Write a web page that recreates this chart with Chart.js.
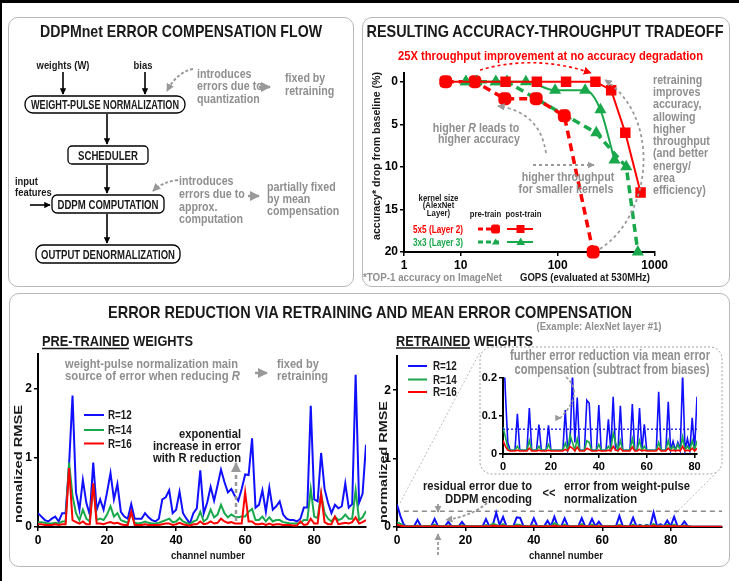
<!DOCTYPE html>
<html>
<head>
<meta charset="utf-8">
<script src="https://cdn.jsdelivr.net/npm/chart.js@4.4.0/dist/chart.umd.min.js"></script>
<style>
  body { margin: 0; background: #fff; }
  #page { position: relative; width: 739px; height: 581px; overflow: hidden; background: #fff;
          font-family: "Liberation Sans", Arial, sans-serif; }
  .bar { position: absolute; background: #000; }
  .panel { position: absolute; border: 1px solid #b8b8b8; border-radius: 10px; }
  canvas { position: absolute; z-index: 1; }
  #overlay { position: absolute; left: 0; top: 0; z-index: 5; pointer-events: none; }
  #overlay text { font-weight: bold; }
  .g { fill: #8f8f8f; }
  .k { fill: #1a1a1a; }
</style>
</head>
<body>
<div id="page">
  <div class="bar" style="left:0;top:0;width:739px;height:3px"></div>
  <div class="bar" style="left:0;top:0;width:2px;height:581px"></div>

  <div class="panel" style="left:8px;top:17px;width:344px;height:268px"></div>
  <div class="panel" style="left:362px;top:17px;width:366px;height:268px"></div>
  <div class="panel" style="left:9px;top:293px;width:719px;height:272px"></div>

  <canvas id="chartTradeoff" width="310" height="214" style="left:360px;top:64px"></canvas>
  <canvas id="chartPre" width="366" height="218" style="left:8px;top:344px"></canvas>
  <canvas id="chartRetrained" width="358" height="216" style="left:370px;top:346px"></canvas>
  <canvas id="chartInset" width="232" height="103" style="left:473px;top:369px"></canvas>

  <svg id="overlay" width="739" height="581" font-family='"Liberation Sans", Arial, sans-serif'>
    <defs>
      <marker id="ak" viewBox="0 0 10 10" refX="9" refY="5" markerWidth="4" markerHeight="4" orient="auto"><path d="M0,0 L10,5 L0,10 z" fill="#000"/></marker>
      <marker id="ag" viewBox="0 0 10 10" refX="9" refY="5" markerWidth="4" markerHeight="4" orient="auto"><path d="M0,0 L10,5 L0,10 z" fill="#999"/></marker>
      <marker id="ar" viewBox="0 0 10 10" refX="9" refY="5" markerWidth="5" markerHeight="5" orient="auto"><path d="M0,0 L10,5 L0,10 z" fill="#f00"/></marker>
    </defs>

    <!-- flow diagram -->
    <text x="181" y="37" font-size="17" text-anchor="middle" class="k" textLength="282" lengthAdjust="spacingAndGlyphs">DDPMnet ERROR COMPENSATION FLOW</text>
    <text x="63" y="69" font-size="11.5" text-anchor="middle" class="k">weights (W)</text>
    <text x="143" y="69" font-size="11.5" text-anchor="middle" class="k">bias</text>
    <g stroke="#000" stroke-width="1.6" fill="none">
      <path d="M63,72 L63,94" marker-end="url(#ak)"/>
      <path d="M145,72 L145,94" marker-end="url(#ak)"/>
      <path d="M107,114 L107,144" marker-end="url(#ak)"/>
      <path d="M107,165 L107,193" marker-end="url(#ak)"/>
      <path d="M107,214 L107,243" marker-end="url(#ak)"/>
      <path d="M30,205 L50,205" marker-end="url(#ak)"/>
    </g>
    <g stroke="#000" stroke-width="1.3" fill="#fff">
      <rect x="25" y="96" width="160" height="17" rx="8"/>
      <rect x="68" y="146" width="80" height="18" rx="4"/>
      <rect x="52" y="195" width="112" height="18" rx="5"/>
      <rect x="36" y="245" width="144" height="18" rx="7"/>
    </g>
    <text x="105" y="109" font-size="12" text-anchor="middle" class="k" textLength="148" lengthAdjust="spacingAndGlyphs">WEIGHT-PULSE NORMALIZATION</text>
    <text x="108" y="159.5" font-size="12" text-anchor="middle" class="k" textLength="60" lengthAdjust="spacingAndGlyphs">SCHEDULER</text>
    <text x="108" y="208.5" font-size="12" text-anchor="middle" class="k" textLength="101" lengthAdjust="spacingAndGlyphs">DDPM COMPUTATION</text>
    <text x="108" y="258.5" font-size="12" text-anchor="middle" class="k" textLength="134" lengthAdjust="spacingAndGlyphs">OUTPUT DENORMALIZATION</text>
    <text x="15" y="185" font-size="11.5" class="k">input</text>
    <text x="15" y="196" font-size="11.5" class="k">features</text>

    <g font-size="13" class="g">
      <text x="197" y="77.5">introduces</text>
      <text x="197" y="90">errors due to</text>
      <text x="197" y="102.5">quantization</text>
      <text x="285" y="82">fixed by</text>
      <text x="285" y="94.5">retraining</text>
      <text x="179" y="184.5">introduces</text>
      <text x="179" y="197.5">errors due to</text>
      <text x="179" y="210.5">approx.</text>
      <text x="179" y="222.5">computation</text>
      <text x="267" y="190.5">partially fixed</text>
      <text x="267" y="202.5">by mean</text>
      <text x="267" y="214.5">compensation</text>
    </g>
    <g stroke="#999" fill="none">
      <path d="M193,69 Q177,72 167,91" stroke-width="2" stroke-dasharray="3,2" marker-end="url(#ag)"/>
      <path d="M178,180 Q162,182 153,191" stroke-width="2" stroke-dasharray="3,2" marker-end="url(#ag)"/>
      <path d="M259,87 L270,87" stroke-width="2.5" marker-end="url(#ag)"/>
      <path d="M248,196 L259,196" stroke-width="2.5" marker-end="url(#ag)"/>
    </g>

    <!-- accuracy / throughput panel -->
    <text x="545" y="37" font-size="17" text-anchor="middle" class="k" textLength="357" lengthAdjust="spacingAndGlyphs">RESULTING ACCURACY-THROUGHPUT TRADEOFF</text>
    <text x="550.5" y="59.5" font-size="13" text-anchor="middle" fill="#f00" textLength="305" lengthAdjust="spacingAndGlyphs">25X throughput improvement at no accuracy degradation</text>
    <g font-size="13" class="g">
      <text x="476" y="131.5" text-anchor="middle">higher <tspan font-style="italic">R</tspan> leads to</text>
      <text x="479" y="142.5" text-anchor="middle">higher accuracy</text>
      <text x="568" y="180.5" text-anchor="middle">higher throughput</text>
      <text x="566" y="193" text-anchor="middle">for smaller kernels</text>
      <text x="653" y="83.5">retraining</text>
      <text x="653" y="95.5">improves</text>
      <text x="653" y="108">accuracy,</text>
      <text x="653" y="120.5">allowing</text>
      <text x="653" y="133">higher</text>
      <text x="653" y="145">throughput</text>
      <text x="653" y="157">(and better</text>
      <text x="653" y="169.5">energy/</text>
      <text x="653" y="182">area</text>
      <text x="653" y="194">efficiency)</text>
    </g>
    <g fill="none">
      <path d="M480,70 Q535,54 591,73" stroke="#f00" stroke-width="1.6" stroke-dasharray="3,3" marker-end="url(#ar)"/>
      <path d="M546,153 Q540,112 498,106" stroke="#999" stroke-width="1.8" stroke-dasharray="3,3" marker-end="url(#ag)"/>
      <path d="M533,165 L594,165" stroke="#999" stroke-width="1.8" stroke-dasharray="3,3" marker-end="url(#ag)"/>
      <path d="M600,249 C652,215 662,118 605,80" stroke="#999" stroke-width="1.8" stroke-dasharray="3,3" marker-end="url(#ag)"/>
    </g>
    <g font-size="9.5" class="k" text-anchor="middle">
      <text x="438.5" y="200.5">kernel size</text>
      <text x="438.5" y="208">(AlexNet</text>
      <text x="438.5" y="215.5">Layer)</text>
      <text x="485.5" y="216.5">pre-train</text>
      <text x="523.5" y="216.5">post-train</text>
    </g>
    <text x="413" y="232.5" font-size="10" fill="#f00">5x5 (Layer 2)</text>
    <text x="413" y="245.5" font-size="10" fill="#19a84b">3x3 (Layer 3)</text>
    <path d="M478,229 L500,229" stroke="#f00" stroke-width="3" stroke-dasharray="5,3"/>
    <rect x="491" y="224.5" width="9" height="9" rx="2.5" fill="#f00"/>
    <path d="M507,229 L533,229" stroke="#f00" stroke-width="2"/>
    <rect x="516.5" y="225" width="8" height="8" fill="#f00"/>
    <path d="M478,242 L500,242" stroke="#19a84b" stroke-width="3" stroke-dasharray="5,3"/>
    <path d="M495.7,238.5 L499.5,244.5 L491.9,244.5 z" fill="#19a84b"/>
    <path d="M507,242 L533,242" stroke="#19a84b" stroke-width="2"/>
    <path d="M520.7,237.5 L525,245 L516.4,245 z" fill="#19a84b"/>
    <text x="363" y="281" font-size="10.5" class="g" textLength="139" lengthAdjust="spacingAndGlyphs">*TOP-1 accuracy on ImageNet</text>
    <text x="585" y="281" font-size="11.5" text-anchor="middle" class="k" textLength="130" lengthAdjust="spacingAndGlyphs">GOPS (evaluated at 530MHz)</text>
    <text transform="translate(380,156) rotate(-90)" font-size="11.5" text-anchor="middle" class="k" textLength="168" lengthAdjust="spacingAndGlyphs">accuracy* drop from baseline (%)</text>

    <!-- error reduction panel -->
    <text x="370" y="317.5" font-size="17" text-anchor="middle" class="k" textLength="524" lengthAdjust="spacingAndGlyphs">ERROR REDUCTION VIA RETRAINING AND MEAN ERROR COMPENSATION</text>
    <text x="599" y="330" font-size="10.5" text-anchor="middle" class="g" textLength="125" lengthAdjust="spacingAndGlyphs">(Example: AlexNet layer #1)</text>
    <text x="42" y="346" font-size="15" class="k" textLength="151" lengthAdjust="spacingAndGlyphs">PRE-TRAINED WEIGHTS</text>
    <path d="M42,348.5 L129,348.5" stroke="#1a1a1a" stroke-width="1.3"/>
    <text x="396" y="345.5" font-size="15" class="k" textLength="137" lengthAdjust="spacingAndGlyphs">RETRAINED WEIGHTS</text>
    <path d="M396,348 L470,348" stroke="#1a1a1a" stroke-width="1.3"/>

    <g font-size="13.5" class="g">
      <text x="65" y="367.7" textLength="173" lengthAdjust="spacingAndGlyphs">weight-pulse normalization main</text>
      <text x="65" y="380" textLength="175" lengthAdjust="spacingAndGlyphs">source of error when reducing <tspan font-style="italic">R</tspan></text>
      <text x="277" y="367.7">fixed by</text>
      <text x="277" y="380">retraining</text>
    </g>
    <path d="M255,373 L267,373" stroke="#999" stroke-width="2.5" marker-end="url(#ag)"/>

    <g font-size="12" class="k">
      <text x="108" y="419">R=12</text>
      <text x="108" y="434">R=14</text>
      <text x="108" y="447.5">R=16</text>
      <text x="433" y="370">R=12</text>
      <text x="433" y="383.5">R=14</text>
      <text x="433" y="396">R=16</text>
    </g>
    <g stroke-width="2">
      <path d="M84,415 L104,415" stroke="#1010ff"/>
      <path d="M84,430 L104,430" stroke="#19a84b"/>
      <path d="M84,443.5 L104,443.5" stroke="#f00"/>
      <path d="M408,366 L427,366" stroke="#1010ff"/>
      <path d="M408,379.5 L427,379.5" stroke="#19a84b"/>
      <path d="M408,392 L427,392" stroke="#f00"/>
    </g>

    <g font-size="13.5" class="k" text-anchor="end">
      <text x="241" y="437.5" textLength="62" lengthAdjust="spacingAndGlyphs">exponential</text>
      <text x="241" y="449.5" textLength="88" lengthAdjust="spacingAndGlyphs">increase in error</text>
      <text x="241" y="461.5" textLength="88" lengthAdjust="spacingAndGlyphs">with R reduction</text>
    </g>
    <path d="M236,521 L236,463" stroke="#999" stroke-width="2.5" stroke-dasharray="4,3" fill="none" marker-end="url(#ag)"/>

    <text transform="translate(22,464) rotate(-90)" font-size="11.5" text-anchor="middle" class="k" textLength="118" lengthAdjust="spacingAndGlyphs">nomalized RMSE</text>
    <text x="208" y="559" font-size="11.5" text-anchor="middle" class="k" textLength="74" lengthAdjust="spacingAndGlyphs">channel number</text>
    <text transform="translate(387,462) rotate(-90)" font-size="11.5" text-anchor="middle" class="k" textLength="122" lengthAdjust="spacingAndGlyphs">normalized RMSE</text>
    <text x="566" y="559" font-size="11.5" text-anchor="middle" class="k" textLength="74" lengthAdjust="spacingAndGlyphs">channel number</text>

    <rect x="480" y="347" width="242" height="127" rx="12" fill="none" stroke="#a0a0a0" stroke-width="1" stroke-dasharray="2,2"/>
    <g font-size="14" class="g" text-anchor="middle">
      <text x="610" y="360" textLength="200" lengthAdjust="spacingAndGlyphs">further error reduction via mean error</text>
      <text x="612" y="374" textLength="195" lengthAdjust="spacingAndGlyphs">compensation (subtract from biases)</text>
    </g>
    <path d="M566,377 C588,396 558,418 561,418" stroke="#999" stroke-width="1.6" stroke-dasharray="3,2" fill="none" marker-end="url(#ag)"/>
    <g stroke="#bbb" stroke-width="1" stroke-dasharray="2,2" fill="none">
      <path d="M400,503 L480,352"/>
      <path d="M670,519 L721,468"/>
    </g>

    <g font-size="13.5" class="k">
      <text x="532" y="489.7" text-anchor="end" textLength="109" lengthAdjust="spacingAndGlyphs">residual error due to</text>
      <text x="532" y="502.7" text-anchor="end" textLength="87" lengthAdjust="spacingAndGlyphs">DDPM encoding</text>
      <text x="549" y="496.5" text-anchor="middle">&lt;&lt;</text>
      <text x="564" y="489.7" textLength="126" lengthAdjust="spacingAndGlyphs">error from weight-pulse</text>
      <text x="564" y="502.7" textLength="73" lengthAdjust="spacingAndGlyphs">normalization</text>
    </g>
    <g stroke="#999" stroke-width="1.8" stroke-dasharray="3,2" fill="none">
      <path d="M438,504 L438,512" marker-end="url(#ag)"/>
      <path d="M438,555 L438,534" marker-end="url(#ag)"/>
      <path d="M487,503 Q472,516 446,520" marker-end="url(#ag)"/>
    </g>
  </svg>
</div>

<script>
// ---------- accuracy-throughput tradeoff (AlexNet layers 2 and 3) ----------
const gopsTicks = [2.6, 10, 100, 1000];
const gopsTickLabels = ['1', '10', '100', '1000'];
const dropTicks = [0, 5, 10, 15, 20];

const red5x5PostGops = [7, 14, 29, 61, 122, 245, 356, 498, 716];
const red5x5PostDrop = [0, 0, 0, 0, 0, 0, 1, 6, 13];
const red5x5PreGops = [7, 14, 28.5, 60, 117, 232];
const red5x5PreDrop = [0, 0, 2, 2, 4, 20];
const green3x3PostGops = [11.3, 14.5, 23, 30, 47, 94, 192, 276, 385];
const green3x3PostDrop = [0, 0, 0, 0, 0, 1, 1, 3.3, 9.2];
const green3x3PreGops = [11.3, 14.5, 23, 30, 60, 122, 250, 510, 671];
const green3x3PreDrop = [0, 0, 0, 0, 2, 4, 6, 10, 20];

// ---------- normalized RMSE per channel (AlexNet layer #1) ----------
const channels = Array.from({ length: 96 }, (_, i) => i);
const channelTicks = [0, 20, 40, 60, 80];
const rmseTicks = [0, 1, 2];
const insetTicks = [0, 0.1, 0.2];
const insetChannelTicks = [0, 20, 40, 60, 80];

const preR12 = [0.2,0.15,0.1,0.08,0.12,0.15,0.08,0.2,0.2,0.9, 1.9,0.5,0.25,0.68,0.35,0.18,0.93,0.25,0.4,0.25,
  0.5,0.78,0.4,0.62,0.22,0.15,0.12,0.33,0.12,0.12, 0.12,0.2,0.14,0.1,0.08,0.12,0.4,0.43,0.53,0.2,
  0.25,0.51,0.2,0.12,0.05,0.2,0.27,0.82,0.2,0.35, 0.58,0.38,0.6,0.83,0.65,0.5,0.55,0.45,0.38,0.55,
  0.76,0.75,1.28,0.28,0.32,0.53,0.22,0.57,0.25,0.3, 0.37,0.18,0.12,0.1,0.1,0.08,0.12,0.28,0.28,1.75,
  0.4,0.37,1.07,0.55,0.35,0.2,0.32,0.27,0.3,0.63, 0.28,0.33,2.2,0.35,0.48,1.19];
const preR14 = [0.07,0.07,0.06,0.05,0.05,0.06,0.05,0.08,0.08,0.93, 0.45,0.2,0.1,0.25,0.12,0.08,0.62,0.1,0.12,0.1,
  0.18,0.3,0.15,0.2,0.1,0.08,0.06,0.2,0.06,0.05, 0.06,0.08,0.06,0.05,0.05,0.06,0.08,0.1,0.12,0.07,
  0.08,0.13,0.08,0.06,0.04,0.08,0.1,0.22,0.08,0.12, 0.25,0.14,0.18,0.32,0.2,0.14,0.18,0.15,0.14,0.15,
  0.15,0.22,0.26,0.1,0.1,0.15,0.08,0.14,0.08,0.1, 0.1,0.07,0.06,0.05,0.05,0.05,0.06,0.1,0.1,0.55,
  0.15,0.13,0.48,0.2,0.12,0.08,0.15,0.1,0.12,0.18, 0.12,0.12,0.53,0.1,0.14,0.23];
const preR16 = [0.04,0.04,0.03,0.03,0.03,0.04,0.03,0.04,0.04,0.85, 0.1,0.07,0.05,0.08,0.04,0.04,0.63,0.05,0.05,0.04,
  0.06,0.07,0.05,0.06,0.04,0.03,0.03,0.22,0.03,0.03, 0.03,0.04,0.03,0.03,0.03,0.03,0.04,0.05,0.05,0.03,
  0.04,0.06,0.04,0.03,0.02,0.04,0.04,0.08,0.04,0.05, 0.08,0.05,0.06,0.12,0.08,0.06,0.07,0.05,0.05,0.05,
  0.5,0.08,0.08,0.04,0.04,0.05,0.03,0.05,0.03,0.04, 0.04,0.03,0.03,0.03,0.02,0.02,0.08,0.03,0.04,0.12,
  0.05,0.05,0.48,0.07,0.04,0.04,0.15,0.04,0.05,0.06, 0.05,0.07,0.14,0.05,0.07,0.1];

const retR12 = [0.33,0.16,0.03,0.01,0.01,0.01,0.105,0.01,0.01,0.01, 0.01,0.12,0.01,0.01,0.01,0.077,0.01,0.01,0.01,0.075,
  0.01,0.01,0.01,0.01,0.01,0.01,0.115,0.01,0.03,0.21, 0.03,0.148,0.01,0.01,0.01,0.141,0.133,0.01,0.01,0.01,
  0.128,0.01,0.01,0.01,0.091,0.01,0.15,0.01,0.01,0.126, 0.01,0.01,0.01,0.01,0.131,0.01,0.01,0.12,0.01,0.078,
  0.01,0.01,0.01,0.01,0.01,0.163,0.01,0.01,0.01,0.137, 0.01,0.033,0.01,0.03,0.01,0.21,0.01,0.04,0.01,0.095,
  0.01,0.15,0.01,0.01,0.08,0.01,0.005,0.005,0.005,0.005, 0.005,0.005,0.005,0.005,0.005,0.005];
const retR14 = [0.07,0.045,0.015,0.01,0.01,0.01,0.02,0.01,0.01,0.01, 0.01,0.035,0.01,0.01,0.01,0.02,0.01,0.01,0.01,0.025,
  0.01,0.01,0.01,0.01,0.01,0.01,0.028,0.01,0.05,0.03, 0.01,0.04,0.01,0.01,0.01,0.035,0.03,0.01,0.01,0.01,
  0.025,0.01,0.01,0.01,0.02,0.01,0.055,0.03,0.01,0.035, 0.01,0.01,0.01,0.01,0.04,0.01,0.01,0.035,0.01,0.02,
  0.01,0.01,0.01,0.01,0.01,0.03,0.01,0.01,0.01,0.035, 0.01,0.02,0.01,0.025,0.01,0.045,0.01,0.02,0.01,0.035,
  0.01,0.035,0.01,0.01,0.02,0.01,0.005,0.005,0.005,0.005, 0.005,0.005,0.005,0.005,0.005,0.005];
const retR16 = [0.035,0.02,0.01,0.008,0.008,0.008,0.01,0.008,0.008,0.008, 0.008,0.015,0.008,0.008,0.008,0.01,0.008,0.008,0.008,0.01,
  0.008,0.008,0.008,0.008,0.008,0.008,0.012,0.008,0.02,0.015, 0.008,0.018,0.008,0.008,0.008,0.015,0.012,0.008,0.008,0.008,
  0.01,0.008,0.008,0.008,0.01,0.008,0.02,0.01,0.008,0.015, 0.008,0.008,0.008,0.008,0.018,0.008,0.008,0.012,0.008,0.01,
  0.008,0.008,0.008,0.008,0.008,0.015,0.008,0.008,0.008,0.015, 0.008,0.01,0.008,0.01,0.008,0.02,0.008,0.01,0.008,0.015,
  0.008,0.015,0.008,0.008,0.01,0.008,0.004,0.004,0.004,0.004, 0.004,0.004,0.004,0.004,0.004,0.004];

// residual level (gray dashed) and mean error of R=12 (blue dotted, inset)
const residualLevel = 0.23;
const residualFromChannel = 2;
const insetMeanError = 0.065;

const FONT = '"Liberation Sans", Arial, sans-serif';
const BLUE = '#1010ff';
const GREEN = '#19a84b';
const RED = '#ff0000';

Chart.defaults.font.family = FONT;
Chart.defaults.font.weight = 'bold';
Chart.defaults.color = '#000';

// the figure uses a condensed face: squeeze the free-running annotation text
document.querySelectorAll('#overlay text:not([textLength])').forEach(t => {
  const w = t.getComputedTextLength();
  t.setAttribute('textLength', (w * 0.82).toFixed(1));
  t.setAttribute('lengthAdjust', 'spacingAndGlyphs');
});

function pts(xs, ys) {
  return xs.map((x, i) => ({ x: x, y: ys[i] }));
}

// fixed axis boxes so the plot areas sit where the figure has them
function axis(type, min, max, tickValues, size, isX, fontSize) {
  return {
    type: type,
    min: min,
    max: max,
    afterBuildTicks: (s) => { s.ticks = tickValues.map(v => ({ value: v })); },
    afterFit: (s) => { if (isX) s.height = size; else s.width = size; },
    border: { display: true, color: '#000', width: 2 },
    grid: { display: true, drawOnChartArea: false, drawTicks: true, tickLength: 4, color: '#000', lineWidth: 1.5 },
    ticks: { color: '#000', font: { size: fontSize || 12, weight: 'bold' }, padding: 2, maxRotation: 0, autoSkip: false }
  };
}

const baseOptions = (pad, scales) => ({
  responsive: false,
  animation: false,
  layout: { padding: pad },
  plugins: { legend: { display: false }, tooltip: { enabled: false } },
  scales: scales
});

// ---- top right: accuracy drop vs GOPS ----
const xTrade = axis('logarithmic', 2.6, 1000, gopsTicks, 26, true);
xTrade.ticks.callback = (v, i) => gopsTickLabels[i];
const yTrade = axis('linear', -1, 20, dropTicks, 44, false);
yTrade.reverse = true;

new Chart(document.getElementById('chartTradeoff'), {
  type: 'line',
  data: {
    datasets: [
      { data: pts(red5x5PostGops, red5x5PostDrop), borderColor: RED, backgroundColor: RED, borderWidth: 2,
        pointStyle: 'rect', pointRadius: 6, clip: false, order: 0 },
      { data: pts(red5x5PreGops, red5x5PreDrop), borderColor: RED, backgroundColor: RED, borderWidth: 3.5, borderDash: [8, 5],
        pointStyle: 'rectRounded', pointRadius: 5.5, clip: false, order: 2 },
      { data: pts(green3x3PostGops, green3x3PostDrop), borderColor: GREEN, backgroundColor: GREEN, borderWidth: 2,
        cubicInterpolationMode: 'monotone', pointStyle: 'triangle', pointRadius: 5, clip: false, order: 1 },
      { data: pts(green3x3PreGops, green3x3PreDrop), borderColor: GREEN, backgroundColor: GREEN, borderWidth: 3.5, borderDash: [8, 5],
        pointStyle: 'triangle', pointRadius: 3.5, clip: false, order: 3 }
    ]
  },
  options: baseOptions({ left: 0, top: 8, right: 15, bottom: 0 }, { x: xTrade, y: yTrade })
});

// ---- bottom: RMSE per channel ----
function rmseSets(r12, r14, r16, width) {
  return [
    { data: pts(channels, r16), borderColor: RED, borderWidth: width, pointRadius: 0, order: 0 },
    { data: pts(channels, r14), borderColor: GREEN, borderWidth: width, pointRadius: 0, order: 1 },
    { data: pts(channels, r12), borderColor: BLUE, borderWidth: width, pointRadius: 0, order: 2 }
  ];
}

new Chart(document.getElementById('chartPre'), {
  type: 'line',
  data: { datasets: rmseSets(preR12, preR14, preR16, 2) },
  options: baseOptions({ left: 0, top: 10, right: 8, bottom: 0 }, {
    x: axis('linear', 0, 95, channelTicks, 35, true),
    y: axis('linear', 0, 2.5, rmseTicks, 30, false)
  })
});

const retrainedSets = rmseSets(retR12, retR14, retR16, 2);
retrainedSets.push({
  data: [{ x: residualFromChannel, y: residualLevel }, { x: 95, y: residualLevel }],
  borderColor: '#8a8a8a', borderWidth: 1.6, borderDash: [5, 4], pointRadius: 0, order: 3
});
new Chart(document.getElementById('chartRetrained'), {
  type: 'line',
  data: { datasets: retrainedSets },
  options: baseOptions({ left: 0, top: 10, right: 6, bottom: 0 }, {
    x: axis('linear', 0, 95, channelTicks, 35, true),
    y: axis('linear', 0, 2.5, rmseTicks, 27, false)
  })
});

// inset: same retrained data, zoomed to 0..0.2
const insetSets = rmseSets(retR12, retR14, retR16, 1.6);
insetSets.push({
  data: [{ x: 0, y: insetMeanError }, { x: 81, y: insetMeanError }],
  borderColor: '#0000dd', borderWidth: 1.2, borderDash: [2, 2], pointRadius: 0, order: -1
});
new Chart(document.getElementById('chartInset'), {
  type: 'line',
  data: { datasets: insetSets },
  options: baseOptions({ left: 0, top: 8, right: 8, bottom: 0 }, {
    x: axis('linear', 0, 81, insetChannelTicks, 18, true, 11),
    y: axis('linear', 0, 0.2, insetTicks, 30, false, 11)
  })
});
</script>
</body>
</html>
